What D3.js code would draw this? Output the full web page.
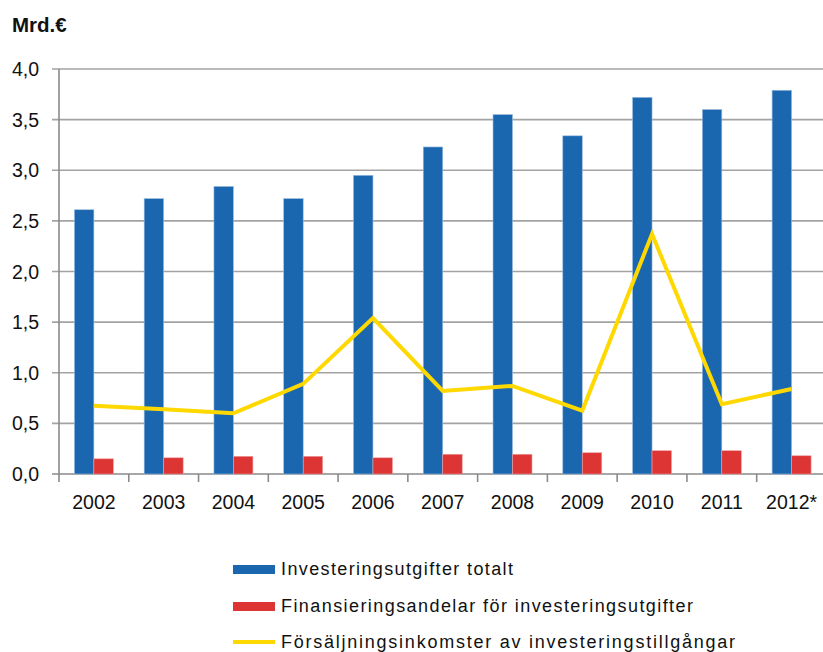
<!doctype html>
<html lang="sv">
<head>
  <meta charset="utf-8">
  <title>Investeringsutgifter</title>
  <script src="https://cdn.jsdelivr.net/npm/d3@7"></script>
  <style>
    html, body { margin: 0; padding: 0; background: #fff; }
    svg { display: block; font-family: "Liberation Sans", Arial, sans-serif; }
  </style>
</head>
<body>
  <svg id="chart" width="823" height="652"></svg>
  <script>
    // data (Mrd.€)
    const years = ["2002", "2003", "2004", "2005", "2006", "2007", "2008", "2009", "2010", "2011", "2012*"];
    const totalt = [2.61, 2.72, 2.84, 2.72, 2.95, 3.23, 3.55, 3.34, 3.72, 3.60, 3.79];
    const finansiering = [0.15, 0.16, 0.175, 0.175, 0.16, 0.195, 0.195, 0.21, 0.23, 0.23, 0.18];
    const forsaljning = [0.675, 0.64, 0.60, 0.89, 1.54, 0.82, 0.87, 0.625, 2.37, 0.69, 0.84];
    const yTicks = [0, 0.5, 1, 1.5, 2, 2.5, 3, 3.5, 4];
    const seriesNames = [
      "Investeringsutgifter totalt",
      "Finansieringsandelar för investeringsutgifter",
      "Försäljningsinkomster av investeringstillgångar"
    ];

    const colors = { blue: "#1a67b0", red: "#dd3434", yellow: "#ffd800" };

    const svg = d3.select("#chart");
    const plotLeft = 59, plotTop = 69, plotBottom = 474, step = 69.77;

    const x0 = d3.scaleBand()
      .domain(years)
      .range([plotLeft, plotLeft + step * years.length])
      .padding(0);

    const x1 = d3.scaleBand()
      .domain(["totalt", "fin"])
      .range([0, x0.bandwidth()])
      .paddingInner(0)
      .paddingOuter(0.79);

    const y = d3.scaleLinear().domain([0, 4]).range([plotBottom, plotTop]);

    // gridlines
    svg.append("g")
      .selectAll("line")
      .data(yTicks)
      .enter()
      .append("line")
      .attr("x1", plotLeft - 7)
      .attr("x2", 823)
      .attr("y1", d => y(d))
      .attr("y2", d => y(d))
      .attr("stroke", d => d === 0 ? "#8a8a8a" : "#a3a3a3")
      .attr("stroke-width", 1.6);

    // y axis line
    svg.append("line")
      .attr("x1", plotLeft).attr("x2", plotLeft)
      .attr("y1", plotTop).attr("y2", plotBottom + 8)
      .attr("stroke", "#8a8a8a")
      .attr("stroke-width", 1.6);

    // y labels
    svg.append("g")
      .selectAll("text")
      .data(yTicks)
      .enter()
      .append("text")
      .text(d => d3.format(".1f")(d).replace(".", ","))
      .attr("x", 39)
      .attr("y", d => y(d))
      .attr("dy", "0.36em")
      .attr("text-anchor", "end")
      .attr("font-size", "19.5px")
      .attr("fill", "#111");

    // x ticks at band boundaries
    svg.append("g")
      .selectAll("line")
      .data(years)
      .enter()
      .append("line")
      .attr("x1", d => x0(d) + x0.bandwidth())
      .attr("x2", d => x0(d) + x0.bandwidth())
      .attr("y1", plotBottom)
      .attr("y2", plotBottom + 8)
      .attr("stroke", "#8a8a8a")
      .attr("stroke-width", 1.6);

    // x labels
    svg.append("g")
      .selectAll("text")
      .data(years)
      .enter()
      .append("text")
      .text(d => d)
      .attr("x", d => x0(d) + x0.bandwidth() / 2)
      .attr("y", 509)
      .attr("text-anchor", "middle")
      .attr("font-size", "19.5px")
      .attr("fill", "#111");

    // bars
    svg.append("g")
      .selectAll("rect")
      .data(totalt)
      .enter()
      .append("rect")
      .attr("x", (d, i) => x0(years[i]) + x1("totalt"))
      .attr("y", d => y(d))
      .attr("width", x1.bandwidth())
      .attr("height", d => y(0) - y(d))
      .attr("fill", colors.blue)
      .attr("stroke", "#9cbde0")
      .attr("stroke-width", 0.6);

    svg.append("g")
      .selectAll("rect")
      .data(finansiering)
      .enter()
      .append("rect")
      .attr("x", (d, i) => x0(years[i]) + x1("fin"))
      .attr("y", d => y(d))
      .attr("width", x1.bandwidth())
      .attr("height", d => y(0) - y(d))
      .attr("fill", colors.red)
      .attr("stroke", "#eea0a0")
      .attr("stroke-width", 0.6);

    // line
    const line = d3.line()
      .x((d, i) => x0(years[i]) + x0.bandwidth() / 2)
      .y(d => y(d));

    svg.append("path")
      .datum(forsaljning)
      .attr("d", line)
      .attr("fill", "none")
      .attr("stroke", colors.yellow)
      .attr("stroke-width", 4)
      .attr("stroke-linejoin", "miter");

    // unit label
    svg.append("text")
      .text("Mrd.€")
      .attr("x", 12)
      .attr("y", 32)
      .attr("font-size", "20.5px")
      .attr("font-weight", "bold")
      .attr("fill", "#111");

    // legend
    const legendWidths = [232, 412, 454];
    const legendY = [569, 606, 642];
    const legend = svg.append("g");

    legend.append("rect")
      .attr("x", 233).attr("y", legendY[0] - 4)
      .attr("width", 42).attr("height", 9)
      .attr("fill", colors.blue);
    legend.append("rect")
      .attr("x", 233).attr("y", legendY[1] - 4)
      .attr("width", 42).attr("height", 9)
      .attr("fill", colors.red);
    legend.append("line")
      .attr("x1", 233).attr("x2", 275)
      .attr("y1", legendY[2]).attr("y2", legendY[2])
      .attr("stroke", colors.yellow)
      .attr("stroke-width", 4);

    legend.selectAll("text")
      .data(seriesNames)
      .enter()
      .append("text")
      .text(d => d)
      .attr("x", 281)
      .attr("y", (d, i) => legendY[i])
      .attr("dy", "0.36em")
      .attr("font-size", "18px")
      .attr("textLength", (d, i) => legendWidths[i])
      .attr("lengthAdjust", "spacing")
      .attr("fill", "#111");
  </script>
</body>
</html>
